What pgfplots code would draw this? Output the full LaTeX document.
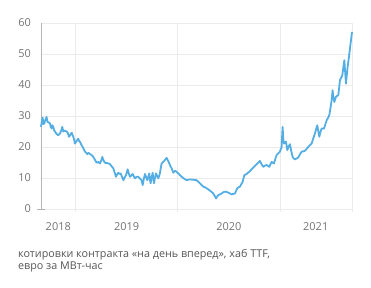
\documentclass[border=0pt]{standalone}
\usepackage{pgfplots}
\pgfplotsset{compat=1.18}
\usepackage{fontspec}
\setmainfont{Open Sans}
\definecolor{linec}{HTML}{55AEE3}
\definecolor{gridc}{HTML}{EBEBEB}
\definecolor{txt}{HTML}{737373}
\definecolor{capc}{HTML}{555555}
\definecolor{axc}{HTML}{B4B4B4}
\begin{document}
\begin{tikzpicture}
\useasboundingbox (-41bp,-79bp) rectangle (330bp,209bp);
\begin{axis}[
  at={(0,0)}, anchor=south west,
  scale only axis, width=311bp, height=186bp,
  xmin=2018.661, xmax=2021.705, ymin=0, ymax=60,
  axis lines*=left,
  x axis line style={draw=axc!80, line width=0.9bp},
  y axis line style={draw=axc, line width=0.9bp},
  ytick={0,10,...,60},
  xtick={2018.83,2019.5,2020.5,2021.35},
  xticklabels={2018,2019,2020,2021},
  major tick length=0pt,
  ymajorgrids,
  major grid style={draw=gridc, line width=0.9bp},
  extra x ticks={2019,2020,2021,2021.705},
  extra x tick labels={},
  extra x tick style={grid=major, major grid style={draw=gridc, line width=0.9bp},
     major tick length=3bp, tick align=outside, tick style={draw=gridc, line width=0.9bp}},
  extra y ticks={0},
  extra y tick labels={},
  extra y tick style={major tick length=8bp, tick align=center, tick style={draw=axc, line width=0.9bp}},
  tick label style={font=\fontsize{11}{13}\selectfont, text=txt, inner sep=0pt},
  /pgf/number format/assume math mode=true,
  yticklabel shift=10bp,
  xticklabel shift=13bp,
  clip=false,
]
\addplot[linec, line width=1.8bp, line join=round] table {
2018.661 26.5
2018.669 28.2
2018.677 29.5
2018.685 27.4
2018.693 27.6
2018.705 28.9
2018.716 29.7
2018.724 28.1
2018.732 28.0
2018.749 27.6
2018.757 26.4
2018.765 26.0
2018.773 27.0
2018.781 26.5
2018.790 25.4
2018.798 25.0
2018.814 24.2
2018.830 23.8
2018.847 24.4
2018.858 25.2
2018.869 26.5
2018.879 25.0
2018.895 25.3
2018.912 25.0
2018.925 24.4
2018.935 23.3
2018.950 24.0
2018.961 24.6
2018.977 23.3
2018.985 22.4
2018.993 21.1
2019.010 22.0
2019.026 22.7
2019.034 21.9
2019.042 21.7
2019.055 20.8
2019.069 20.0
2019.080 19.3
2019.091 18.5
2019.102 18.2
2019.114 17.7
2019.127 18.1
2019.140 17.7
2019.157 17.4
2019.173 16.8
2019.190 15.8
2019.206 14.9
2019.222 15.2
2019.238 14.7
2019.250 15.6
2019.261 16.8
2019.274 15.6
2019.287 14.9
2019.310 14.8
2019.336 14.5
2019.352 13.8
2019.369 13.1
2019.382 11.8
2019.395 10.4
2019.407 11.2
2019.418 11.7
2019.429 11.3
2019.440 11.5
2019.455 10.3
2019.467 9.3
2019.480 10.2
2019.493 10.9
2019.501 11.8
2019.509 12.8
2019.520 11.5
2019.532 10.4
2019.545 10.8
2019.558 11.3
2019.570 10.5
2019.581 9.9
2019.597 10.4
2019.613 10.4
2019.630 9.8
2019.646 9.3
2019.656 7.7
2019.668 9.8
2019.679 11.3
2019.690 10.3
2019.701 9.3
2019.711 10.4
2019.721 11.5
2019.727 9.5
2019.734 8.3
2019.744 10.2
2019.754 11.7
2019.760 9.9
2019.767 8.3
2019.776 10.0
2019.786 11.5
2019.798 10.6
2019.809 9.9
2019.817 10.7
2019.825 11.5
2019.833 13.2
2019.842 14.7
2019.858 15.2
2019.874 15.8
2019.883 16.2
2019.891 16.5
2019.904 15.6
2019.917 14.7
2019.928 13.8
2019.940 13.1
2019.948 12.4
2019.956 11.7
2019.968 12.2
2019.979 12.3
2019.992 11.8
2020.005 11.5
2020.021 10.9
2020.038 10.4
2020.062 9.8
2020.086 9.3
2020.110 9.5
2020.135 9.5
2020.160 9.4
2020.184 9.3
2020.200 8.8
2020.217 8.3
2020.233 7.7
2020.250 7.2
2020.266 7.0
2020.282 6.7
2020.299 6.3
2020.315 5.9
2020.331 5.5
2020.347 5.0
2020.360 4.3
2020.374 3.4
2020.385 4.0
2020.396 4.5
2020.412 4.7
2020.429 5.0
2020.445 5.4
2020.462 5.6
2020.478 5.5
2020.494 5.3
2020.510 5.0
2020.527 4.7
2020.543 4.9
2020.560 5.0
2020.571 5.9
2020.582 6.7
2020.595 7.0
2020.608 7.2
2020.621 8.0
2020.635 8.8
2020.643 9.9
2020.651 10.9
2020.662 11.1
2020.674 11.3
2020.687 11.7
2020.700 12.0
2020.716 12.6
2020.732 13.1
2020.749 13.7
2020.765 14.2
2020.785 14.9
2020.804 15.5
2020.820 14.4
2020.837 13.6
2020.853 14.0
2020.869 14.2
2020.883 13.9
2020.896 13.6
2020.907 14.5
2020.918 15.2
2020.930 14.9
2020.941 14.7
2020.954 16.1
2020.967 17.4
2020.984 18.0
2021.000 18.5
2021.008 19.3
2021.016 20.0
2021.021 23.5
2021.026 26.5
2021.032 22.8
2021.039 21.1
2021.049 21.4
2021.059 21.7
2021.066 20.2
2021.072 19.0
2021.085 20.2
2021.098 20.9
2021.111 18.6
2021.124 16.8
2021.135 16.3
2021.147 16.0
2021.163 16.3
2021.179 16.6
2021.195 17.6
2021.212 18.5
2021.228 18.6
2021.245 18.8
2021.261 19.4
2021.277 20.0
2021.293 20.6
2021.310 21.1
2021.326 22.8
2021.343 24.4
2021.354 25.8
2021.365 27.0
2021.375 25.1
2021.385 23.3
2021.396 24.8
2021.408 26.0
2021.420 25.9
2021.431 26.0
2021.444 27.3
2021.457 28.6
2021.470 29.4
2021.483 30.3
2021.495 32.7
2021.506 35.1
2021.515 38.3
2021.523 36.2
2021.532 34.5
2021.540 35.4
2021.548 36.2
2021.560 36.5
2021.571 36.7
2021.579 39.1
2021.587 41.5
2021.598 42.3
2021.610 43.1
2021.620 45.6
2021.630 48.0
2021.638 44.2
2021.646 40.4
2021.654 43.1
2021.662 45.8
2021.671 48.0
2021.679 50.1
2021.687 52.3
2021.695 54.4
2021.700 55.8
2021.705 57.1
};
\end{axis}
\node[anchor=base west, inner sep=0pt, font=\fontsize{10.8}{12}\selectfont, text=capc] at (-23bp,-48bp) {котировки контракта «на день вперед», хаб TTF,};
\node[anchor=base west, inner sep=0pt, font=\fontsize{10.8}{12}\selectfont, text=capc] at (-23bp,-60bp) {евро за МВт-час};
\end{tikzpicture}
\end{document}
